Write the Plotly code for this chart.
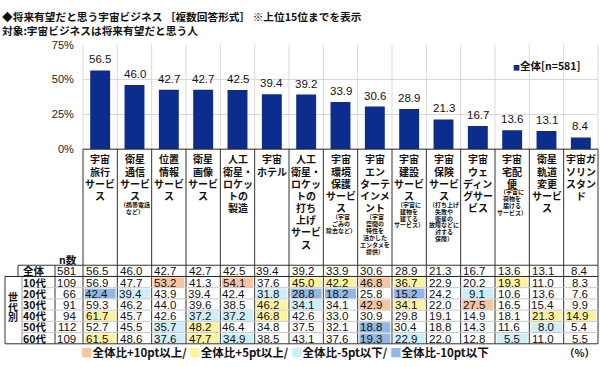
import plotly.graph_objects as go

W, H = 600, 367

# ---------------- data ----------------
cat_main = [
    "宇宙\n旅行\nサービ\nス",
    "衛星\n通信\nサービ\nス",
    "位置\n情報\nサービ\nス",
    "衛星\n画像\nサービ\nス",
    "人工\n衛星・\nロケッ\nトの\n製造",
    "宇宙\nホテル",
    "人工\n衛星・\nロケッ\nトの\n打ち\n上げ\nサービ\nス",
    "宇宙\n環境\n保護\nサービ\nス",
    "宇宙\nエン\nターテ\nインメ\nント",
    "宇宙\n建設\nサービ\nス",
    "宇宙\n保険\nサービ\nス",
    "宇宙\nウェ\nディン\nグサー\nビス",
    "宇宙\n宅配\n便",
    "衛星\n軌道\n変更\nサービ\nス",
    "宇宙ガ\nソリン\nスタン\nド",
]
cat_notes = [
    "", "（携帯電話\nなど）", "", "", "", "", "",
    "（宇宙\nごみの\n除去など）",
    "（宇宙\n空間の\n特性を\n活かした\nエンタメを\n提供）",
    "（宇宙に\n建物を\n建てる\nサービス）",
    "（打ち上げ\n失敗や\n衛星の\n故障などに\n対する\n保険）",
    "",
    "（宇宙に\n荷物を\n届ける\nサービス）",
    "", "",
]

total = [56.5, 46.0, 42.7, 42.7, 42.5, 39.4, 39.2, 33.9, 30.6, 28.9, 21.3, 16.7, 13.6, 13.1, 8.4]
age10 = [56.9, 47.7, 53.2, 41.3, 54.1, 37.6, 45.0, 42.2, 46.8, 36.7, 22.9, 20.2, 19.3, 11.0, 8.3]
age20 = [42.4, 39.4, 43.9, 39.4, 42.4, 31.8, 28.8, 18.2, 25.8, 15.2, 24.2, 9.1, 10.6, 13.6, 7.6]
age30 = [59.3, 46.2, 44.0, 39.6, 38.5, 46.2, 34.1, 34.1, 42.9, 34.1, 22.0, 27.5, 16.5, 15.4, 9.9]
age40 = [61.7, 45.7, 42.6, 37.2, 37.2, 46.8, 42.6, 33.0, 30.9, 29.8, 19.1, 14.9, 18.1, 21.3, 14.9]
age50 = [52.7, 45.5, 35.7, 48.2, 46.4, 34.8, 37.5, 32.1, 18.8, 30.4, 18.8, 14.3, 11.6, 8.0, 5.4]
age60 = [61.5, 48.6, 37.6, 47.7, 34.9, 38.5, 43.1, 37.6, 19.3, 22.9, 22.0, 12.8, 5.5, 11.0, 5.5]

row_labels = ["全体", "10代", "20代", "30代", "40代", "50代", "60代"]
row_n = [581, 109, 66, 91, 94, 112, 109]
rows = [total, age10, age20, age30, age40, age50, age60]

legend_labels = ["全体比+10pt以上", "全体比+5pt以上", "全体比-5pt以下", "全体比-10pt以下"]

# ---------------- style ----------------
BAR = "#0c2d8e"
C_OR = "#f7c4a0"
C_YE = "#fff3a0"
C_CY = "#cdeffa"
C_BL = "#93b6e4"
JP = "Noto Sans CJK JP"
LAT = "Liberation Sans"

X0, X1 = 83, 598
Y75, Y0 = 40, 148
ROW_TOP, ROW_H = 268, 11.6
NROWS = len(rows)
TBL_BOT = ROW_TOP + ROW_H * NROWS


def px(x):
    return x / W


def py(y):
    return 1 - y / H


fig = go.Figure()
fig.add_trace(go.Bar(
    x=list(range(len(total))), y=total,
    marker=dict(color=BAR, line=dict(width=0)),
    width=0.58, showlegend=False, hoverinfo="skip",
))

shapes = []
ann = []

# bar value labels
for i, v in enumerate(total):
    ann.append(dict(xref="x", yref="y", x=i, y=v, yshift=11, text=f"{v:.1f}", showarrow=False,
                    xanchor="center", yanchor="middle",
                    font=dict(family=LAT, size=11.5, color="#111")))

def hline(y, xa, xb, color, width=1, dash="solid"):
    shapes.append(dict(type="line", xref="paper", yref="paper", x0=px(xa), x1=px(xb),
                       y0=py(y), y1=py(y), line=dict(color=color, width=width, dash=dash)))

def vline_px(x, ya, yb, color, width=1):
    shapes.append(dict(type="line", xref="paper", yref="paper", x0=px(x), x1=px(x),
                       y0=py(ya), y1=py(yb), line=dict(color=color, width=width)))

# plot-area column separators (light gray)
for i in range(len(total) - 1):
    shapes.append(dict(type="line", xref="x", yref="paper", x0=i + 0.5, x1=i + 0.5,
                       y0=py(Y75), y1=py(Y0), line=dict(color="#d9d9d9", width=1), layer="below"))
vline_px(X0, Y75, Y0, "#d9d9d9")
vline_px(X1, Y75, Y0, "#d9d9d9")

# category & table vertical separators (dark)
for i in range(len(total) - 1):
    shapes.append(dict(type="line", xref="x", yref="paper", x0=i + 0.5, x1=i + 0.5,
                       y0=py(Y0), y1=py(TBL_BOT), line=dict(color="#333", width=1)))
vline_px(X0, Y0, TBL_BOT, "#333")
vline_px(X1, Y0, TBL_BOT, "#333")
vline_px(55, ROW_TOP, TBL_BOT, "#333")
vline_px(18, ROW_TOP, ROW_TOP + ROW_H, "#333")
vline_px(5, ROW_TOP + ROW_H, TBL_BOT, "#333")
vline_px(22, ROW_TOP + ROW_H, TBL_BOT, "#999")

# horizontal lines
hline(Y0, X0, X1, "#222")
hline(ROW_TOP, 18, X1, "#333")
hline(ROW_TOP + ROW_H, 5, X1, "#222")
for r in range(2, NROWS):
    hline(ROW_TOP + ROW_H * r, 22, X1, "#c8c8c8", 1)
hline(TBL_BOT, 5, X1, "#333")

# category labels
LS = 12.6
for i, (m, n) in enumerate(zip(cat_main, cat_notes)):
    lines = m.split("\n")
    for k, t in enumerate(lines):
        ann.append(dict(xref="x", yref="paper", x=i, y=py(158 + LS * k), text=t,
                        showarrow=False, xanchor="center", yanchor="middle",
                        font=dict(family=JP, size=10, color="#111", weight="bold")))
    if n:
        ylast = 158 + LS * (len(lines) - 1)
        for j, t in enumerate(n.split("\n")):
            ann.append(dict(xref="x", yref="paper", x=i, y=py(ylast + 9 + 7.2 * j), text=t,
                            showarrow=False, xanchor="center", yanchor="middle",
                            font=dict(family=JP, size=6, color="#111", weight="bold")))

# table header
ann.append(dict(xref="paper", yref="paper", x=px(79), y=py(262), text="n数", showarrow=False,
                xanchor="right", yanchor="middle",
                font=dict(family=JP, size=10.5, color="#111", weight="bold")))

# table cells
def cell_color(v, base):
    d = round(v - base, 1)
    if d >= 10:
        return C_OR
    if d >= 5:
        return C_YE
    if d <= -10:
        return C_BL
    if d <= -5:
        return C_CY
    return None

for r, (lab, n, vals) in enumerate(zip(row_labels, row_n, rows)):
    yc = ROW_TOP + ROW_H * (r + 0.5)
    ann.append(dict(xref="paper", yref="paper", x=px(34), y=py(yc), text=lab, showarrow=False,
                    xanchor="center", yanchor="middle",
                    font=dict(family=JP, size=10.5, color="#111", weight="bold")))
    ann.append(dict(xref="paper", yref="paper", x=px(78), y=py(yc + 0.5), text=str(n),
                    showarrow=False, xanchor="right", yanchor="middle",
                    font=dict(family=LAT, size=11.5, color="#111")))
    for i, v in enumerate(vals):
        if r > 0:
            c = cell_color(v, total[i])
            if c:
                shapes.append(dict(type="rect", xref="x", yref="paper",
                                   x0=i - 0.5 + 0.05, x1=i + 0.5 - 0.05,
                                   y0=py(ROW_TOP + ROW_H * r + 1), y1=py(ROW_TOP + ROW_H * (r + 1) - 0.5),
                                   line=dict(width=0), fillcolor=c, layer="below"))
        ann.append(dict(xref="x", yref="paper", x=i + 0.5 - 0.22, y=py(yc + 0.5), text=f"{v:.1f}",
                        showarrow=False, xanchor="right", yanchor="middle",
                        font=dict(family=LAT, size=11.5, color="#111")))

# 世代別 vertical label
for k, ch in enumerate("世代別"):
    ann.append(dict(xref="paper", yref="paper", x=px(13), y=py(300 + 10.5 * k), text=ch,
                    showarrow=False, xanchor="center", yanchor="middle",
                    font=dict(family=JP, size=10, color="#111", weight="bold")))

# title
ann.append(dict(xref="paper", yref="paper", x=0, y=py(11), xanchor="left", yanchor="middle",
                text="◆将来有望だと思う宇宙ビジネス ［複数回答形式］ ※上位15位までを表示", showarrow=False,
                font=dict(family=JP, size=10.7, color="#111", weight="bold")))
ann.append(dict(xref="paper", yref="paper", x=0, y=py(25), xanchor="left", yanchor="middle",
                text="対象:宇宙ビジネスは将来有望だと思う人", showarrow=False,
                font=dict(family=JP, size=10.7, color="#111", weight="bold")))

# series legend
ann.append(dict(xref="paper", yref="paper", x=px(511), y=py(62), xanchor="left", yanchor="middle",
                text=f"<span style='color:{BAR};font-size:7px'>■</span>全体[n={row_n[0]}]", showarrow=False,
                font=dict(family=JP, size=10.5, color="#111", weight="bold")))

# highlight legend
cols = [C_OR, C_YE, C_CY, C_BL]
parts = []
for k, (lab, c) in enumerate(zip(legend_labels, cols)):
    sep = "/ " if k < len(legend_labels) - 1 else ""
    parts.append(f"<span style='color:{c}'>■</span>{lab}{sep}")
ann.append(dict(xref="paper", yref="paper", x=px(79), y=py(358), xanchor="left", yanchor="middle",
                text="".join(parts), showarrow=False,
                font=dict(family=JP, size=11.5, color="#111", weight="bold")))
ann.append(dict(xref="paper", yref="paper", x=px(597), y=py(358), xanchor="right", yanchor="middle",
                text="（%）", showarrow=False,
                font=dict(family=JP, size=10.5, color="#111", weight="bold")))

fig.update_layout(
    width=W, height=H, margin=dict(l=0, r=0, t=0, b=0),
    paper_bgcolor="white", plot_bgcolor="white",
    bargap=0.4,
    xaxis=dict(domain=[px(X0), px(X1)], range=[-0.5, len(total) - 0.5], showticklabels=False,
               showgrid=False, zeroline=False, showline=False, fixedrange=True),
    yaxis=dict(domain=[py(Y0), py(Y75)], range=[0, 75], dtick=25, ticksuffix="%",
               showgrid=True, gridcolor="#d9d9d9", zeroline=False, showline=False,
               ticks="outside", ticklen=6, tickcolor="rgba(0,0,0,0)",
               tickfont=dict(family=LAT, size=11, color="#222"), fixedrange=True),
    shapes=shapes, annotations=ann,
)

fig.write_html("out.html", config={"displayModeBar": False},
               post_script="document.body.style.margin='0';document.body.style.overflow='hidden';")
